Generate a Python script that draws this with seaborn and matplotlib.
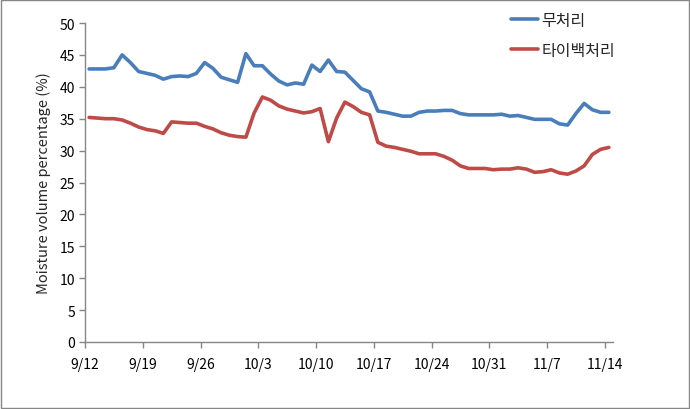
import numpy as np
import pandas as pd
import matplotlib
matplotlib.use("Agg")
import matplotlib.pyplot as plt
import seaborn as sns
from matplotlib.patches import Rectangle

# Daily readings, 9/12 .. 11/14
dates = pd.date_range("2014-09-12", "2014-11-14", freq="D")

untreated = [42.8, 42.8, 42.8, 43.0, 45.0, 43.8, 42.4, 42.1, 41.8, 41.2,
             41.6, 41.7, 41.6, 42.1, 43.8, 42.9, 41.5, 41.1, 40.7, 45.2,
             43.3, 43.3, 42.0, 40.9, 40.3, 40.6, 40.4, 43.4, 42.4, 44.2,
             42.4, 42.3, 41.0, 39.7, 39.2, 36.2, 36.0, 35.7, 35.4, 35.4,
             36.0, 36.2, 36.2, 36.3, 36.3, 35.8, 35.6, 35.6, 35.6, 35.6,
             35.7, 35.4, 35.5, 35.2, 34.9, 34.9, 34.9, 34.2, 34.0, 35.8,
             37.4, 36.4, 36.0, 36.0]

tyvek = [35.2, 35.1, 35.0, 35.0, 34.8, 34.3, 33.7, 33.3, 33.1, 32.7,
         34.5, 34.4, 34.3, 34.3, 33.8, 33.4, 32.8, 32.4, 32.2, 32.1,
         35.9, 38.4, 37.9, 37.0, 36.5, 36.2, 35.9, 36.1, 36.6, 31.4,
         35.1, 37.6, 36.9, 36.0, 35.6, 31.3, 30.7, 30.5, 30.2, 29.9,
         29.5, 29.5, 29.5, 29.1, 28.5, 27.6, 27.2, 27.2, 27.2, 27.0,
         27.1, 27.1, 27.3, 27.1, 26.6, 26.7, 27.0, 26.5, 26.3, 26.8,
         27.6, 29.4, 30.2, 30.5]

series_names = ["무처리", "타이백처리"]
tick_dates = pd.date_range("2014-09-12", periods=10, freq="7D")
tick_labels = ["9/12", "9/19", "9/26", "10/3", "10/10", "10/17",
               "10/24", "10/31", "11/7", "11/14"]

# long format for seaborn; points sit in the middle of each day (Excel date axis)
df = pd.DataFrame({
    "date": list(dates + pd.Timedelta(hours=12)) * 2,
    "value": untreated + tyvek,
    "series": [series_names[0]] * len(dates) + [series_names[1]] * len(dates),
})

sns.set_style("white")
plt.rcParams["font.family"] = ["Noto Sans CJK KR", "DejaVu Sans"]

fig = plt.figure(figsize=(6.9, 4.1), dpi=100)
ax = fig.add_axes([85 / 690, 67 / 410, 528 / 690, 319 / 410])

sns.lineplot(data=df, x="date", y="value", hue="series",
             palette=["#4A7EBB", "#BE4B48"], linewidth=2.6, ax=ax)

grey = "#868686"
ax.set_xlim(pd.Timestamp("2014-09-12"), pd.Timestamp("2014-11-15"))
ax.set_ylim(0, 50)
ax.set_yticks(np.arange(0, 51, 5))
ax.set_xticks(tick_dates)
ax.set_xticklabels(tick_labels)
ax.set_xlabel("")
ax.set_ylabel("Moisture volume percentage (%)", fontsize=10.5, labelpad=6)

for side in ["top", "right"]:
    ax.spines[side].set_visible(False)
for side in ["left", "bottom"]:
    ax.spines[side].set_color(grey)
    ax.spines[side].set_linewidth(1)
ax.tick_params(axis="both", which="major", length=4, width=1, color=grey,
               labelsize=10, labelcolor="black", direction="out")
ax.tick_params(axis="x", pad=7)
ax.tick_params(axis="y", pad=3)
ax.tick_params(left=True, bottom=True)

leg = ax.legend(loc="upper left", bbox_to_anchor=(0.78, 1.08), frameon=False,
                fontsize=11.5, handlelength=1.7, handletextpad=0.2, labelspacing=0.8)
for line in leg.get_lines():
    line.set_linewidth(2.6)

# outer chart border
fig.patches.append(Rectangle((0.001, 0.002), 0.997, 0.996, transform=fig.transFigure,
                             fill=False, edgecolor=grey, linewidth=1))

fig.savefig("out.png", dpi=100)
